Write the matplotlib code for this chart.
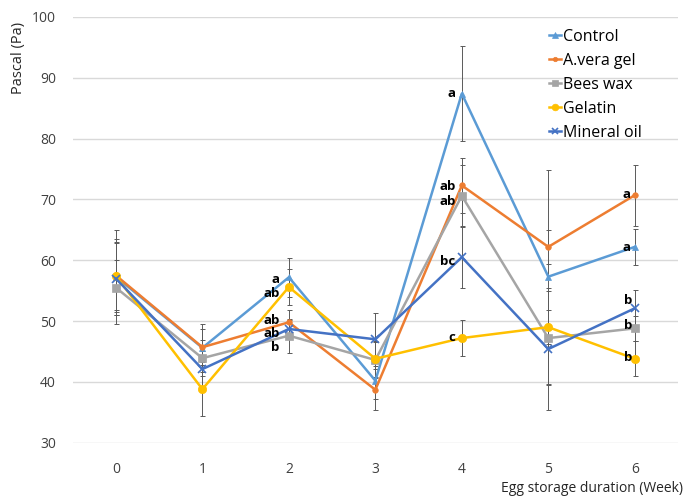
import matplotlib
matplotlib.use("Agg")
import matplotlib.pyplot as plt

weeks = [0, 1, 2, 3, 4, 5, 6]
series_names = ["Control", "A.vera gel", "Bees wax", "Gelatin", "Mineral oil"]
control = [57.3, 45.6, 57.2, 40.2, 87.4, 57.3, 62.2]
avera = [57.5, 45.7, 49.8, 38.7, 72.3, 62.2, 70.7]
beeswax = [55.5, 43.9, 47.6, 43.6, 70.6, 47.2, 48.8]
gelatin = [57.4, 38.8, 55.6, 43.8, 47.2, 49.0, 43.8]
mineral = [57.0, 42.1, 48.7, 47.0, 60.5, 45.4, 52.1]

err_control = [7.7, 4.0, 3.2, 3.0, 7.8, 17.6, 3.0]
err_avera = [6.0, 3.0, 2.0, 3.4, 4.5, 2.8, 5.0]
err_beeswax = [4.5, 3.0, 2.8, 3.0, 5.0, 7.7, 2.0]
err_gelatin = [5.5, 4.4, 3.0, 3.0, 3.0, 2.8, 2.9]
err_mineral = [6.0, 3.0, 1.5, 4.4, 5.0, 10.0, 3.0]

# significance letters per series (Control, A.vera gel, Bees wax, Gelatin, Mineral oil)
letters_week2 = ["a", "ab", "b", "ab", "ab"]
letters_week4 = ["a", "ab", "ab", "c", "bc"]
letters_week6 = ["a", "a", "b", "b", "b"]

values = [control, avera, beeswax, gelatin, mineral]
errors = [err_control, err_avera, err_beeswax, err_gelatin, err_mineral]
colors = ["#5B9BD5", "#ED7D31", "#A5A5A5", "#FFC000", "#4472C4"]
markers = ["^", "o", "s", "o", "x"]
msizes = [5, 4, 6, 6, 6]

plt.rcParams['font.family'] = ['Open Sans', 'DejaVu Sans']

fig = plt.figure(figsize=(6.85, 5.0), dpi=100)
ax = fig.add_axes([0.1061, 0.1146, 0.8837, 0.8514])

for v, e in zip(values, errors):
    ax.errorbar(weeks, v, yerr=e, fmt='none', ecolor='#5A5A5A', elinewidth=0.7,
                capsize=1.8, capthick=0.7, zorder=2)

for name, v, c, m, ms in zip(series_names, values, colors, markers, msizes):
    ax.plot(weeks, v, color=c, lw=1.8, marker=m, markersize=ms, label=name,
            markeredgewidth=1.2 if m == 'x' else 0.5, zorder=3)

def put_letters(week, letters, offsets):
    for i, (lab, (dx, dy)) in enumerate(zip(letters, offsets)):
        ax.annotate(lab, (week, values[i][week]), xytext=(dx, dy), textcoords='offset points',
                    ha='right', va='center', fontsize=9.5, fontweight='bold', zorder=5)

# offsets in points, order: Control, A.vera, Bees wax, Gelatin, Mineral oil
put_letters(2, letters_week2, [(-6.5, -1.4), (-6.5, 1.2), (-6.5, -8.3), (-6.5, -4.7), (-6.5, -3.6)])
put_letters(4, letters_week4, [(-4.5, 0), (-4.5, -0.7), (-4.5, -4.3), (-4.5, 0.7), (-4.5, -3)])
put_letters(6, letters_week6, [(-3, -0.5), (-3, 0.7), (-1.5, 1.9), (-1.5, 1.2), (-1.5, 5.7)])

ax.set_xlim(-0.5, 6.5)
ax.set_ylim(30, 100)
ax.set_xticks(weeks)
ax.set_yticks([30, 40, 50, 60, 70, 80, 90, 100])
ax.tick_params(axis='both', length=0, labelsize=10, colors='#404040')
ax.tick_params(axis='x', pad=14)
ax.tick_params(axis='y', pad=12)
for s in ax.spines.values():
    s.set_visible(False)
ax.grid(axis='y', color='#D9D9D9', lw=1)
ax.set_axisbelow(True)

fig.text(0.027, 0.884, "Pascal (Pa)", rotation=90, ha='center', va='center',
         fontsize=10.5, color='#262626')
fig.text(0.997, 0.024, "Egg storage duration (Week)", ha='right', va='center',
         fontsize=10, color='#262626')

leg = ax.legend(loc='upper left', bbox_to_anchor=(0.801, 0.942), bbox_transform=fig.transFigure,
                frameon=False, fontsize=11.5, handlelength=0.8, handletextpad=0.1,
                labelspacing=0.5, borderaxespad=0, borderpad=0, markerscale=0.8)

fig.savefig("out.png", dpi=100)
